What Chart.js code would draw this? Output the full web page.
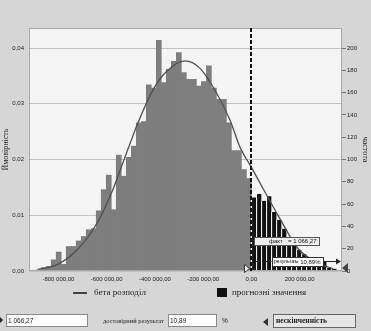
<!DOCTYPE html>
<html><head><meta charset="utf-8">
<script src="https://cdn.jsdelivr.net/npm/chart.js@4.4.0/dist/chart.umd.min.js"></script>
<style>
html,body{margin:0;padding:0;background:#d6d6d6;}
#wrap{position:relative;width:371px;height:331px;overflow:hidden;background:#d6d6d6;}
#c{position:absolute;left:0;top:0;}
.t{position:absolute;white-space:nowrap;color:#222;}
.serif{font-family:"Liberation Serif",serif;}
.sans{font-family:"Liberation Sans",sans-serif;}
.box{position:absolute;box-sizing:border-box;border:1px solid #8a8a8a;background:#fff;}
</style></head><body>
<div id="wrap">
<canvas id="c" width="371" height="331" style="width:371px;height:331px"></canvas>
<div style="position:absolute;left:73px;top:292px;width:14px;height:2px;background:#444"></div>
<div class="t serif" style="left:94px;top:287px;font-size:9px;line-height:11px">бета розподіл</div>
<div style="position:absolute;left:217px;top:288px;width:10px;height:9px;background:#111"></div>
<div class="t serif" style="left:232px;top:287px;font-size:9px;line-height:11px">прогнозні значення</div>

<div style="position:absolute;left:0;top:317px;width:0;height:0;border-top:3px solid transparent;border-bottom:3px solid transparent;border-left:3px solid #222"></div>
<div class="box" style="left:6px;top:314px;width:82px;height:13px"></div>
<div class="t sans" style="left:8px;top:316px;font-size:6.5px;line-height:9px">1 066,27</div>
<div class="t serif" style="left:103px;top:316px;font-size:6.4px;line-height:9px">достовірний результат</div>
<div class="box" style="left:168px;top:314px;width:49px;height:13px"></div>
<div class="t sans" style="left:170px;top:316px;font-size:6.5px;line-height:9px">10,89</div>
<div class="t sans" style="left:222px;top:316px;font-size:6.5px;line-height:9px">%</div>
<div style="position:absolute;left:263px;top:318px;width:0;height:0;border-top:4px solid transparent;border-bottom:4px solid transparent;border-right:5px solid #333"></div>
<div class="box" style="left:273px;top:314px;width:83px;height:14px;background:#e6e6e6;border-color:#666"></div>
<div class="t serif" style="left:276px;top:316px;font-size:7.5px;line-height:10px;font-weight:bold">нескінченність</div>
</div>
<script>
// ---- data ----
const binWidth = 20750;
const firstBinStart = -892250;
const certaintyMin = 0;
const counts = [1,3,4,10,17,6,22,22,27,31,37,38,54,73,86,55,104,85,102,112,
  133,134,167,164,207,169,181,188,196,178,172,172,166,170,184,164,154,154,133,108,
  108,91,83,
  66,69,63,67,53,46,38,30,24,19,15,11,8,6,8,3,2];
const curveX = [-886000,-803000,-720000,-637000,-582000,-526000,-471000,-408000,-352000,-276000,-214000,-144000,-89000,-48000,1000,118000,194000,284000,339000];
const curveY = [0.0003,0.0012,0.0039,0.0088,0.0138,0.0202,0.0265,0.0325,0.0358,0.0377,0.0364,0.0319,0.0271,0.0223,0.0185,0.0094,0.0040,0.0013,0.0004];
const xTicks = [-800000,-600000,-400000,-200000,0,200000];
const pTicks = [0,0.01,0.02,0.03,0.04];
const cTicks = [0,20,40,60,80,100,120,140,160,180,200];
const xMin = -922000, xMax = 375500;
const pMax = 0.0436, cMax = 218;
const factText = 'факт', factValue = '= 1 066,27';
const resText = 'результат', resValue = '= 10,89%';

function fmtX(v){
  const neg = v < 0;
  const s = Math.round(Math.abs(v)).toString().replace(/\B(?=(\d{3})+(?!\d))/g,' ');
  return (neg?'-':'') + s + ',00';
}
const binStart = i => firstBinStart + i*binWidth;
const setTicks = arr => s => { s.ticks = arr.map(v=>({value:v})); };

const bgPlugin = {
  id:'bg',
  beforeDraw(chart){
    const {ctx, chartArea:a} = chart;
    ctx.save();
    ctx.fillStyle = '#f5f5f5';
    ctx.fillRect(a.left, a.top, a.right-a.left, a.bottom-a.top);
    ctx.restore();
  },
  afterDraw(chart){
    const {ctx, chartArea:a} = chart;
    const xs = chart.scales.x;
    ctx.save();
    ctx.strokeStyle = '#a8a8a8'; ctx.lineWidth = 1;
    ctx.strokeRect(a.left+0.5, a.top+0.5, a.right-a.left-1, a.bottom-a.top-1);
    const x0 = Math.round(xs.getPixelForValue(certaintyMin));
    // dashed certainty line
    ctx.strokeStyle = '#111'; ctx.lineWidth = 2; ctx.setLineDash([4,2]);
    ctx.beginPath(); ctx.moveTo(x0, a.top); ctx.lineTo(x0, a.bottom); ctx.stroke();
    ctx.setLineDash([]);
    // left grabber triangle
    ctx.fillStyle = '#fff'; ctx.strokeStyle = '#333'; ctx.lineWidth = 1;
    ctx.beginPath(); ctx.moveTo(x0-6.5, a.bottom-6.5); ctx.lineTo(x0-1.5, a.bottom-2.5); ctx.lineTo(x0-6.5, a.bottom+1.5); ctx.closePath(); ctx.fill(); ctx.stroke();
    // right grabber triangle
    ctx.fillStyle = '#444';
    ctx.beginPath(); ctx.moveTo(a.right, a.bottom-3); ctx.lineTo(a.right+6, a.bottom-8); ctx.lineTo(a.right+6, a.bottom+2); ctx.closePath(); ctx.fill();
    // fact box
    ctx.font = '6px "Liberation Sans"'; ctx.textBaseline = 'middle';
    ctx.fillStyle = '#eeeeee'; ctx.strokeStyle = '#555';
    ctx.fillRect(x0+3, 237, 65, 8); ctx.strokeRect(x0+3.5, 237.5, 65, 8);
    ctx.fillStyle = '#111';
    ctx.fillText(factText, x0+18, 241.5);
    ctx.fillText(factValue, x0+37, 241.5);
    // result line + box + arrow
    ctx.strokeStyle = '#222'; ctx.setLineDash([2,1.5]); ctx.lineWidth = 1;
    ctx.beginPath(); ctx.moveTo(x0+1, 261.5); ctx.lineTo(x0+21, 261.5); ctx.stroke();
    ctx.setLineDash([]);
    ctx.fillStyle = '#fff'; ctx.strokeStyle = '#333';
    ctx.fillRect(x0+21, 257, 51, 9); ctx.strokeRect(x0+21.5, 257.5, 51, 9);
    ctx.fillStyle = '#111';
    ctx.font = '5px "Liberation Sans"';
    ctx.fillText(resText, x0+23, 262);
    ctx.font = '6px "Liberation Sans"';
    ctx.fillText(resValue, x0+44, 262);
    ctx.strokeStyle = '#222';
    ctx.beginPath(); ctx.moveTo(x0+73, 261.5); ctx.lineTo(x0+87, 261.5); ctx.stroke();
    ctx.fillStyle = '#222';
    ctx.beginPath(); ctx.moveTo(x0+90, 261.5); ctx.lineTo(x0+85, 258.5); ctx.lineTo(x0+85, 264.5); ctx.closePath(); ctx.fill();
    ctx.restore();
  }
};

const tickFont = {family:'Liberation Sans', size:6};
new Chart(document.getElementById('c'), {
  data:{
    datasets:[
      {type:'line', label:'бета розподіл', yAxisID:'yP', order:0,
       data: curveX.map((x,i)=>({x, y:curveY[i]})),
       borderColor:'#505050', borderWidth:1.3, pointRadius:0, fill:false,
       cubicInterpolationMode:'monotone'},
      {type:'bar', label:'прогнозні значення', yAxisID:'yC', order:1,
       data: counts.map((c,i)=>({x: binStart(i)+binWidth/2, y:c})),
       backgroundColor: ctx => binStart(ctx.dataIndex) >= certaintyMin ? '#121212' : '#7e7e7e',
       borderColor:'#ffffff',
       borderWidth: ctx => binStart(ctx.dataIndex) >= certaintyMin ? {left:1,right:0,top:0,bottom:0} : 0,
       borderSkipped:false,
       barPercentage:1, categoryPercentage:1}
    ]
  },
  options:{
    responsive:false, animation:false, events:[],
    layout:{padding:{top:28,left:0,right:0,bottom:0}},
    plugins:{legend:{display:false}, tooltip:{enabled:false}},
    scales:{
      x:{type:'linear', min:xMin, max:xMax, offset:false,
         afterBuildTicks:setTicks(xTicks),
         ticks:{callback:fmtX, font:tickFont, color:'#222', padding:5, maxRotation:0, autoSkip:false},
         grid:{display:false, drawTicks:false, offset:false}, border:{display:false},
         afterFit(s){ s.height = 60; }},
      yP:{type:'linear', position:'left', min:0, max:pMax,
         afterBuildTicks:setTicks(pTicks),
         ticks:{callback:v=>v.toFixed(2).replace('.',','), font:tickFont, color:'#222', padding:5},
         grid:{color:'#c2c2c2', drawTicks:false}, border:{display:false},
         title:{display:true, text:'Ймовірність', font:{family:'Liberation Serif', size:8}, color:'#222', padding:{top:1,bottom:0}},
         afterFit(s){ s.width = 29; }},
      yC:{type:'linear', position:'right', min:0, max:cMax,
         afterBuildTicks:setTicks(cTicks),
         ticks:{font:tickFont, color:'#222', padding:1},
         grid:{drawOnChartArea:false, drawTicks:true, tickLength:4, tickColor:'#777'}, border:{display:false},
         title:{display:true, text:'частота', font:{family:'Liberation Serif', size:8}, color:'#222', padding:{top:1,bottom:0}},
         afterFit(s){ s.width = 29; }}
    }
  },
  plugins:[bgPlugin]
});
</script>
</body></html>
